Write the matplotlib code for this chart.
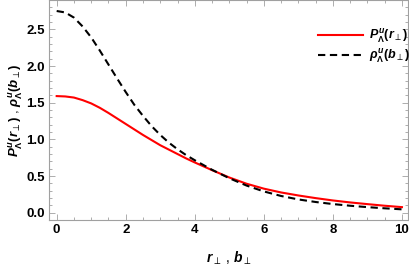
import numpy as np
import matplotlib
matplotlib.use("Agg")
import matplotlib.pyplot as plt
from matplotlib.ticker import MultipleLocator

# values
r = [0, 0.25, 0.5, 0.75, 1, 1.25, 1.5, 1.75, 2, 2.25, 2.5, 2.75, 3, 3.25, 3.5, 3.75, 4,
     4.5, 5, 5.5, 6, 6.5, 7, 7.5, 8, 8.5, 9, 9.5, 10]
p_u = [1.59, 1.585, 1.57, 1.535, 1.49, 1.43, 1.36, 1.285, 1.21, 1.135, 1.06, 0.99, 0.92,
       0.86, 0.80, 0.74, 0.685, 0.58, 0.48, 0.395, 0.328, 0.276, 0.235, 0.199, 0.167,
       0.14, 0.117, 0.095, 0.076]
rho_u = [2.75, 2.73, 2.66, 2.54, 2.39, 2.21, 2.02, 1.83, 1.645, 1.47, 1.32, 1.18, 1.06,
         0.955, 0.865, 0.785, 0.715, 0.585, 0.47, 0.37, 0.29, 0.228, 0.181, 0.146, 0.118,
         0.095, 0.076, 0.06, 0.046]

label_p = r'$P^{u}_{\Lambda}(r_{\perp})$'
label_rho = r'$\rho^{u}_{\Lambda}(b_{\perp})$'

plt.rcParams['font.family'] = 'Liberation Sans'
plt.rcParams['mathtext.fontset'] = 'custom'
plt.rcParams['mathtext.it'] = 'Liberation Sans:italic:bold'
plt.rcParams['mathtext.rm'] = 'Liberation Sans:bold'
plt.rcParams['mathtext.bf'] = 'Liberation Sans:bold'

fig = plt.figure(figsize=(4.09, 2.69), dpi=100)
ax = fig.add_axes([0.12, 0.182, 0.878, 0.818])

ax.plot(r, p_u, color='red', lw=1.5, label=label_p)
ax.plot(r, rho_u, color='black', lw=1.5, ls=(0, (3.5, 2.2)), label=label_rho)

ax.set_xlim(-0.22, 10.18)
ax.set_ylim(-0.10, 2.90)
ax.xaxis.set_major_locator(MultipleLocator(2))
ax.xaxis.set_minor_locator(MultipleLocator(0.5))
ax.yaxis.set_major_locator(MultipleLocator(0.5))
ax.yaxis.set_minor_locator(MultipleLocator(0.1))

for s in ax.spines.values():
    s.set_color('#a0a0a0')
    s.set_linewidth(0.8)
ax.tick_params(which='both', direction='in', top=True, right=True, color='#a0a0a0', width=0.6)
ax.tick_params(which='major', length=4, labelsize=9.5, pad=3)
ax.tick_params(which='minor', length=2)
for lab in ax.get_xticklabels() + ax.get_yticklabels():
    lab.set_fontweight('bold')

ax.set_xlabel(r'$r_{\perp}$ , $b_{\perp}$', fontsize=10, labelpad=10)
ax.set_ylabel(label_p + ' , ' + label_rho, fontsize=9.5)
ax.yaxis.set_label_coords(-0.068, 0.5)

ax.legend(loc='upper right', bbox_to_anchor=(1.02, 0.9), frameon=False, fontsize=9,
          handlelength=3.6, borderaxespad=0.0, labelspacing=0.2, handletextpad=0.5)

fig.savefig('out.png', dpi=100)
